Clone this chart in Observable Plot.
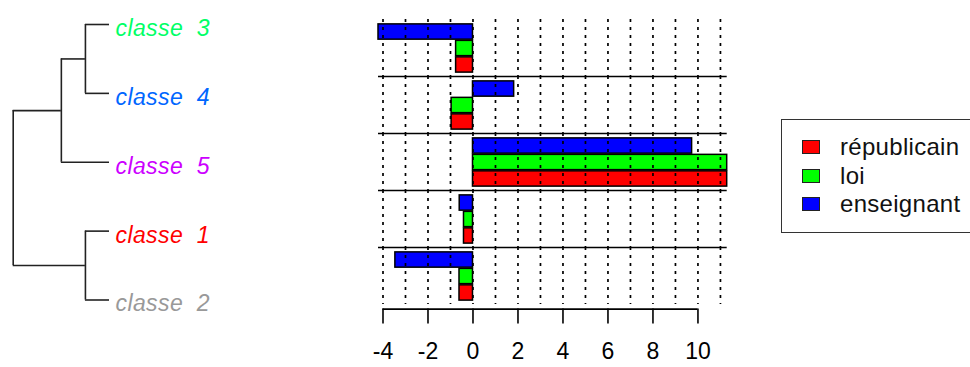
<!DOCTYPE html>
<html>
<head>
<meta charset="utf-8">
<script src="https://cdn.jsdelivr.net/npm/d3@7"></script>
<script src="https://cdn.jsdelivr.net/npm/@observablehq/plot@0.6"></script>
<style>
  body { margin: 0; background: #fff; }
  #chart { position: relative; width: 970px; height: 367px; overflow: hidden;
           font-family: "Liberation Sans", Arial, sans-serif; }
  #chart svg { position: absolute; top: 0; left: 0; background: none; }
  #tree text { white-space: pre; letter-spacing: 0.4px; }
  #legend { position: absolute; left: 781px; top: 119px; width: 200px; height: 114px;
            box-sizing: border-box; border: 1.5px solid #333; padding-top: 13px; }
  #legend .row { height: 28.5px; display: flex; align-items: center; font-size: 24px;
                 letter-spacing: 0.3px; color: #111; }
  #legend .sw { width: 16px; height: 12px; border: 1.3px solid #222; margin-left: 20px; margin-right: 20px; }
</style>
</head>
<body>
<div id="chart"></div>
<script>
// Classes, in the order of the dendrogram leaves (top to bottom)
const classes = ["classe  3", "classe  4", "classe  5", "classe  1", "classe  2"];
const classColors = ["#00FF66", "#0066FF", "#CC00FF", "#FF0000", "#999999"];

// Words and their colours (legend order)
const series = ["républicain", "loi", "enseignant"];
const seriesColors = ["#FF0000", "#00FF00", "#0000FF"];

// Values per class, same order as `classes`
const republicain = [-0.75, -0.95, 11.3, -0.4, -0.6];
const loi         = [-0.75, -0.95, 11.3, -0.4, -0.6];
const enseignant  = [-4.2, 1.83, 9.74, -0.59, -3.45];

// Axis ticks and dotted reference lines
const xTicks = [-4, -2, 0, 2, 4, 6, 8, 10];
const gridTicks = [-4, -3, -2, -1, 0, 1, 2, 3, 4, 5, 6, 7, 8, 9, 10, 11];

// Hierarchical merges: node name, merged children, merge height
const mergeNodes = ["n34", "n12", "n345", "root"];
const mergeChildren = [["classe  3", "classe  4"], ["classe  1", "classe  2"], ["n34", "classe  5"], ["n345", "n12"]];
const mergeHeights = [1, 1, 2, 4];

const chart = document.getElementById("chart");

// ---- dendrogram ----
const pos = new Map(classes.map((c, i) => [c, {y: i, h: 0}]));
mergeNodes.forEach((n, k) => {
  const ch = mergeChildren[k].map((c) => pos.get(c));
  pos.set(n, {y: d3.mean(ch, (d) => d.y), h: mergeHeights[k]});
});
const verticals = mergeNodes.map((n, k) => {
  const ys = mergeChildren[k].map((c) => pos.get(c).y);
  return {h: mergeHeights[k], y1: d3.min(ys), y2: d3.max(ys)};
});
const horizontals = mergeNodes.flatMap((n, k) =>
  mergeChildren[k].map((c) => ({y: pos.get(c).y, x1: pos.get(c).h, x2: mergeHeights[k]}))
);

const tree = Plot.plot({
  width: 330, height: 367,
  marginLeft: 12.7, marginRight: 221, marginTop: 24, marginBottom: 67.5,
  style: {fontFamily: "Liberation Sans, Arial, sans-serif", background: "none"},
  x: {domain: [d3.max(mergeHeights), 0], axis: null},
  y: {domain: [0, classes.length - 1], reverse: true, axis: null},
  color: {domain: classes, range: classColors},
  marks: [
    Plot.ruleX(verticals, {x: "h", y1: "y1", y2: "y2", stroke: "#222", strokeWidth: 1.6}),
    Plot.ruleY(horizontals, {y: "y", x1: "x1", x2: "x2", stroke: "#222", strokeWidth: 1.6}),
    Plot.text(classes, {x: 0, y: (d, i) => i, text: (d) => d, fill: (d) => d, dx: 6, dy: 4,
      textAnchor: "start", fontStyle: "italic", fontSize: 23})
  ]
});
tree.id = "tree";
chart.appendChild(tree);

// ---- bars, one panel per class ----
const valuesBySeries = [republicain, loi, enseignant];
const rows = classes.flatMap((c, i) => series.map((s, j) => ({classe: c, serie: s, value: valuesBySeries[j][i]})));
const barOrder = ["enseignant", "loi", "républicain"]; // top to bottom inside a panel
const xDomain = d3.extent(rows, (d) => d.value);
const yDomain = [-0.26, 3.2];

const bars = Plot.plot({
  width: 970, height: 367,
  marginLeft: 378, marginRight: 243.3, marginTop: 18.7, marginBottom: 63.3,
  style: {fontFamily: "Liberation Sans, Arial, sans-serif", fontSize: "23px", background: "none", color: "#000"},
  x: {domain: xDomain, axis: null},
  y: {domain: yDomain, reverse: true, axis: null},
  fy: {domain: classes, padding: 0, axis: null},
  color: {domain: series, range: seriesColors},
  marks: [
    Plot.rect(rows, {fy: "classe", x1: 0, x2: "value",
      y1: (d) => barOrder.indexOf(d.serie), y2: (d) => barOrder.indexOf(d.serie) + 1,
      fill: "serie", stroke: "#000", strokeWidth: 1.5, insetTop: 0.6, insetBottom: 0.6}),
    Plot.ruleX(gridTicks, {stroke: "#000", strokeWidth: 1.7, strokeDasharray: "3,5"}),
    Plot.ruleY(classes.slice(0, -1), {fy: (d) => d, y: yDomain[1], x1: xDomain[0], x2: xDomain[1],
      stroke: "#000", strokeWidth: 1.6}),
    Plot.ruleY(classes.slice(-1), {fy: (d) => d, y: yDomain[1], dy: 4.6,
      x1: xTicks[0], x2: xTicks[xTicks.length - 1], stroke: "#000", strokeWidth: 1.6}),
    Plot.axisX({ticks: xTicks, tickSize: 15, tickPadding: 19, dy: 4.6, strokeWidth: 1.6,
      tickFormat: (d) => String(d), fill: "#000", label: null})
  ]
});
chart.appendChild(bars);

// ---- legend ----
const legend = document.createElement("div");
legend.id = "legend";
series.forEach((s, j) => {
  const row = document.createElement("div");
  row.className = "row";
  const sw = document.createElement("span");
  sw.className = "sw";
  sw.style.background = seriesColors[j];
  const label = document.createElement("span");
  label.textContent = s;
  row.append(sw, label);
  legend.appendChild(row);
});
chart.appendChild(legend);
</script>
</body>
</html>
